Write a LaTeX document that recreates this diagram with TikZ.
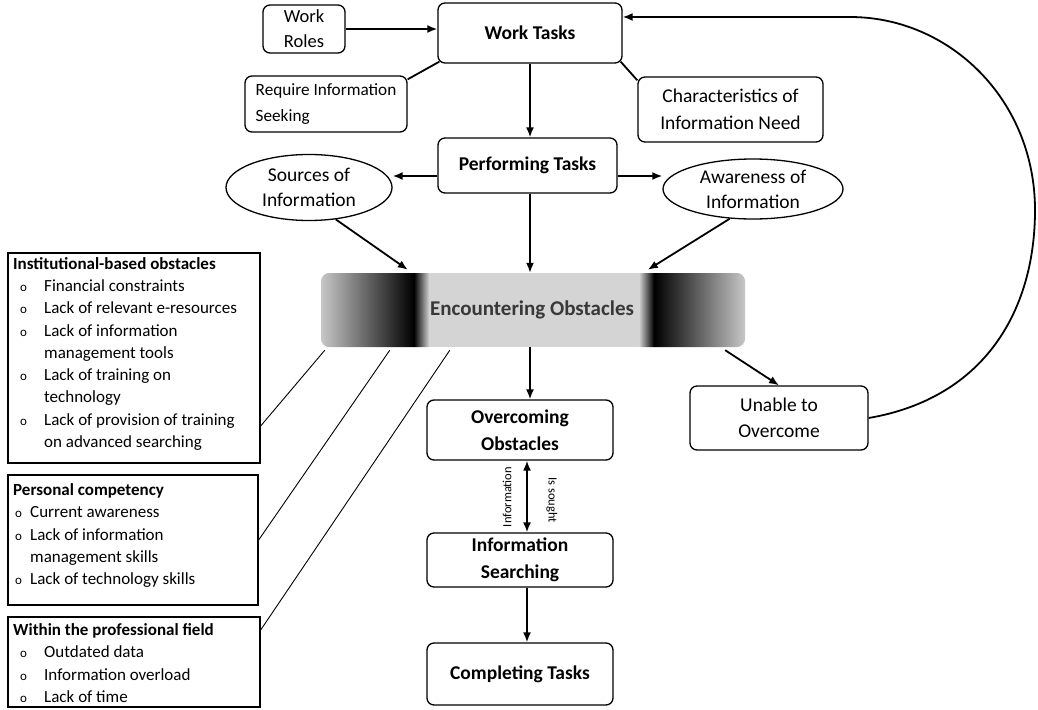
\documentclass[tikz,border=0pt]{standalone}
\usepackage{fontspec}
\setmainfont{Carlito}
\usetikzlibrary{shapes.geometric,arrows.meta,calc}
\newcommand{\bul}[1]{\makebox[#1][l]{\fontsize{13}{13}\selectfont o}}
\begin{document}
\begin{tikzpicture}[x=1pt,y=-1pt,
  box/.style={draw,rounded corners=7pt,line width=1.3pt,align=center,inner sep=0pt,font=\fontsize{19.5}{26.5}\selectfont},
  bbox/.style={box,font=\bfseries\fontsize{19.5}{26.5}\selectfont},
  oval/.style={draw,ellipse,line width=1.3pt,align=center,inner sep=0pt,font=\fontsize{19.5}{25}\selectfont},
  arr/.style={line width=1.8pt,-{Latex[length=10pt,width=8pt]}},
  darr/.style={line width=1.8pt,{Latex[length=10pt,width=8pt]}-{Latex[length=10pt,width=8pt]}},
  link/.style={line width=1.8pt},
  thinline/.style={line width=0.9pt},
  listbox/.style={draw,line width=1.3pt,inner sep=0pt},
  listtext/.style={anchor=north west,align=left,inner sep=0pt,font=\fontsize{17}{22.3}\selectfont},
  small/.style={inner sep=0pt,font=\fontsize{12.5}{14}\selectfont},
]
\useasboundingbox (0,0) rectangle (1038,709);

% top nodes
\node[box,minimum width=82,minimum height=48,font=\fontsize{18.5}{25}\selectfont] (wr) at (304,29) {Work\\Roles};
\node[bbox,minimum width=184,minimum height=60] (wt) at (530,33) {Work Tasks};
\node[box,minimum width=162,minimum height=56,align=left,font=\fontsize{17.2}{26}\selectfont] (ris) at (326,104) {Require Information\\Seeking};
\node[box,minimum width=185,minimum height=65] (cin) at (730.5,109.5) {Characteristics of\\Information Need};
\node[bbox,minimum width=179,minimum height=55] (pt) at (527.5,165.5) {Performing Tasks};
\node[oval,minimum width=166,minimum height=66] (soi) at (309,187.5) {Sources of\\Information};
\node[oval,minimum width=180,minimum height=60] (aoi) at (753,189) {Awareness of\\Information};

% encountering obstacles bar
\node[minimum width=424,minimum height=74,inner sep=0pt] (eo) at (533,310) {};
\begin{scope}
\clip[rounded corners=9pt] (eo.north west) rectangle (eo.south east);
\shade[left color=black!22,right color=black] (321,273) rectangle (414,347);
\shade[left color=black,right color=black!18] (414,273) rectangle (429,347);
\fill[black!17] (429,273) rectangle (639,347);
\shade[left color=black!17,right color=black] (639,273) rectangle (654,347);
\shade[left color=black,right color=black!22] (654,273) rectangle (745,347);
\end{scope}
\node[inner sep=0pt,font=\bfseries\fontsize{21}{25}\selectfont,text=black!78] (eot) at (532,310) {Encountering Obstacles};

% lower column
\node[bbox,minimum width=186,minimum height=60] (oo) at (520,430) {Overcoming\\Obstacles};
\node[bbox,minimum width=186,minimum height=54] (is) at (520,560) {Information\\Searching};
\node[bbox,minimum width=186,minimum height=62] (ct) at (520,674) {Completing Tasks};
\node[box,minimum width=178,minimum height=64] (uo) at (779,418) {Unable to\\Overcome};

% left boxes
\node[listbox,minimum width=252,minimum height=210] (b1) at (134,358) {};
\node[listtext] (b1t) at (13,257) {\textbf{Institutional-based obstacles}\\
\hspace*{7pt}\bul{24pt}Financial constraints\\
\hspace*{7pt}\bul{24pt}Lack of relevant e-resources\\
\hspace*{7pt}\bul{24pt}Lack of information\\
\hspace*{31pt}management tools\\
\hspace*{7pt}\bul{24pt}Lack of training on\\
\hspace*{31pt}technology\\
\hspace*{7pt}\bul{24pt}Lack of provision of training\\
\hspace*{31pt}on advanced searching};

\node[listbox,minimum width=250,minimum height=130] (b2) at (133,540) {};
\node[listtext] (b2t) at (13,483.5) {\textbf{Personal competency}\\
\hspace*{2pt}\bul{15pt}Current awareness\\
\hspace*{2pt}\bul{15pt}Lack of information\\
\hspace*{17pt}management skills\\
\hspace*{2pt}\bul{15pt}Lack of technology skills};

\node[listbox,minimum width=252,minimum height=90] (b3) at (134,662) {};
\node[listtext] (b3t) at (13,623.5) {\textbf{Within the professional field}\\
\hspace*{7pt}\bul{24pt}Outdated data\\
\hspace*{7pt}\bul{24pt}Information overload\\
\hspace*{7pt}\bul{24pt}Lack of time};

% helper coordinates
\coordinate (xm) at (530,0);
\coordinate (xl) at (527,0);
\coordinate (ys) at (0,176);
\coordinate (loopTop) at (850,17);

% connectors
\draw[arr] (wr.east) -- (wt.west |- wr.east);
\draw[link] ($(wt.south west)+(2,-2)$) -- ($(ris.north east)+(0,4)$);
\draw[link] ($(wt.south east)+(-2,-2)$) -- ($(cin.north west)+(0,4)$);
\draw[arr] (wt.south -| xm) -- (pt.north -| xm);
\draw[arr] (pt.west |- ys) -- (soi.east |- ys);
\draw[arr] (pt.east |- ys) -- (aoi.west |- ys);
\draw[arr] (soi.-50) -- ($(eo.north west)+(87,-3)$);
\draw[arr] (pt.south -| xm) -- (eo.north -| xm);
\draw[arr] (aoi.-128) -- ($(eo.north west)+(327,-3)$);
\draw[arr] (eo.south -| xm) -- (oo.north -| xm);
\draw[arr] ($(eo.south east)+(-20,3)$) -- (uo.north);
\draw[darr] (oo.south -| xl) -- (is.north -| xl);
\draw[arr] (is.south -| xl) -- (ct.north -| xl);
\node[small,rotate=90] (lblA) at (507,497) {Information};
\node[small,rotate=-90] (lblB) at (552,500) {Is sought};

\draw[arr] (uo.east) .. controls (985,398) and (1035,310) .. (1035,210)
  .. controls (1035,100) and (950,17) .. (loopTop) -- (wt.east |- loopTop);

% obstacle links
\draw[thinline] ($(eo.south west)+(4,3)$) -- ($(b1.east)+(0,68)$);
\draw[thinline] ($(eo.south west)+(69,3)$) -- (b2.east);
\draw[thinline] ($(eo.south west)+(129,3)$) -- ($(b3.east)+(0,-32)$);
\end{tikzpicture}
\end{document}
